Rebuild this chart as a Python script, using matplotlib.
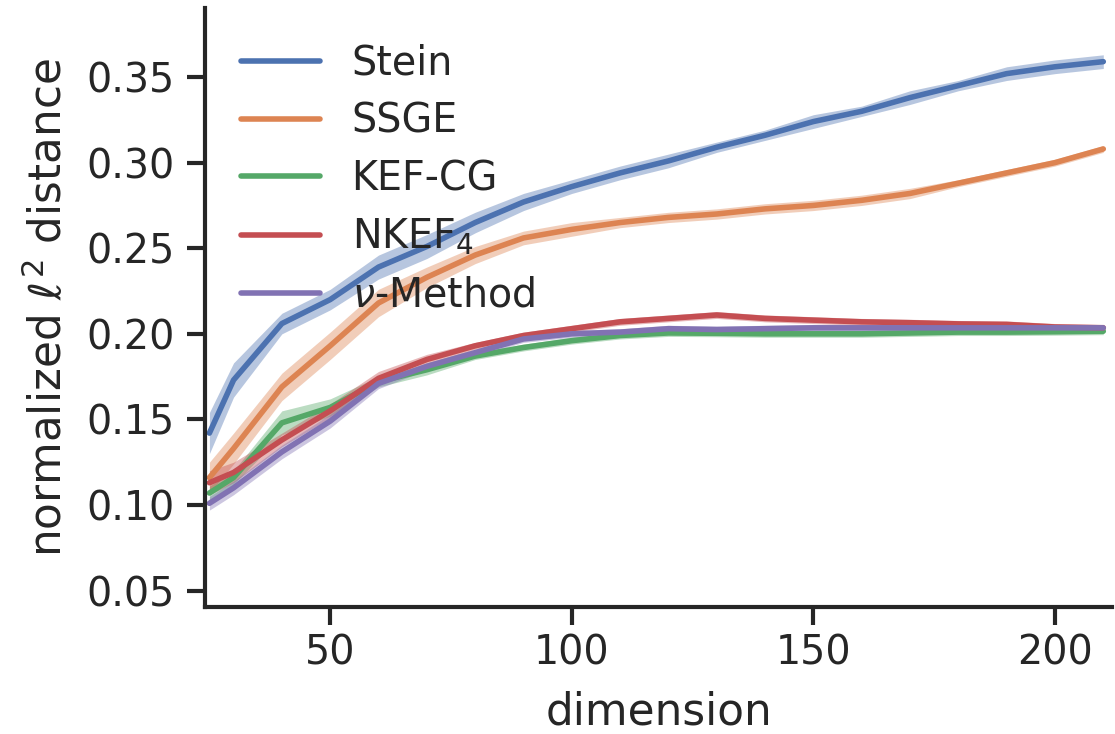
import numpy as np
import matplotlib
matplotlib.use("Agg")
import matplotlib.pyplot as plt
import seaborn as sns

# dimensions on the x axis
dims = [25, 30, 40, 50, 60, 70, 80, 90, 100, 110, 120, 130, 140, 150,
        160, 170, 180, 190, 200, 210]

# mean normalized l2 distance
stein = [0.142, 0.173, 0.206, 0.220, 0.239, 0.251, 0.265, 0.277, 0.286, 0.294,
         0.301, 0.309, 0.316, 0.324, 0.330, 0.338, 0.345, 0.352, 0.356, 0.359]
ssge = [0.116, 0.133, 0.169, 0.193, 0.218, 0.233, 0.246, 0.256, 0.261, 0.265,
        0.268, 0.270, 0.273, 0.275, 0.278, 0.282, 0.288, 0.294, 0.300, 0.308]
kef_cg = [0.107, 0.116, 0.148, 0.157, 0.172, 0.179, 0.187, 0.192, 0.196, 0.199,
          0.2005, 0.2003, 0.200, 0.200, 0.200, 0.2005, 0.201, 0.201, 0.2012, 0.2015]
nkef4 = [0.113, 0.119, 0.138, 0.155, 0.174, 0.185, 0.193, 0.199, 0.203, 0.207,
         0.209, 0.211, 0.209, 0.208, 0.207, 0.2065, 0.2058, 0.2055, 0.204, 0.2035]
nu_method = [0.101, 0.110, 0.131, 0.149, 0.171, 0.181, 0.189, 0.197, 0.200, 0.201,
             0.203, 0.2025, 0.203, 0.2035, 0.2035, 0.2035, 0.2035, 0.2035, 0.2035, 0.2035]

# half widths of the shaded bands
stein_err = [0.012, 0.010, 0.006, 0.006, 0.007, 0.007, 0.006, 0.005, 0.004, 0.004,
             0.004, 0.003, 0.003, 0.004, 0.003, 0.004, 0.003, 0.004, 0.004, 0.004]
ssge_err = [0.009, 0.009, 0.008, 0.008, 0.008, 0.006, 0.005, 0.004, 0.004, 0.003,
            0.003, 0.003, 0.003, 0.003, 0.003, 0.003, 0.002, 0.002, 0.002, 0.002]
kef_cg_err = [0.004, 0.004, 0.007, 0.005, 0.003, 0.003, 0.002, 0.002, 0.002, 0.002,
              0.002, 0.002, 0.002, 0.002, 0.002, 0.002, 0.002, 0.002, 0.002, 0.002]
nkef4_err = [0.007, 0.006, 0.004, 0.004, 0.004, 0.003, 0.002, 0.002, 0.002, 0.002,
             0.002, 0.002, 0.002, 0.002, 0.002, 0.002, 0.002, 0.002, 0.002, 0.002]
nu_err = [0.004, 0.004, 0.004, 0.004, 0.003, 0.002, 0.002, 0.002, 0.002, 0.002,
          0.002, 0.002, 0.002, 0.002, 0.002, 0.002, 0.002, 0.002, 0.002, 0.002]

labels = ["Stein", "SSGE", "KEF-CG", r"NKEF$_4$", r"$\nu$-Method"]
series = [stein, ssge, kef_cg, nkef4, nu_method]
errors = [stein_err, ssge_err, kef_cg_err, nkef4_err, nu_err]

sns.set_theme(style="ticks", palette="deep")
plt.rcParams["font.family"] = ["DejaVu Sans"]
colors = sns.color_palette("deep")

fig = plt.figure(figsize=(11.15, 7.34), dpi=100)
ax = fig.add_axes([0.1839, 0.173, 0.8134, 0.816])

x = np.array(dims)
for i, (lab, y, e) in enumerate(zip(labels, series, errors)):
    y = np.array(y)
    e = np.array(e)
    ax.fill_between(x, y - e, y + e, color=colors[i], alpha=0.4, lw=0)
    ax.plot(x, y, color=colors[i], lw=4, label=lab)

ax.set_xlim(24.1, 211.8)
ax.set_ylim(0.0404, 0.3903)
ax.set_xticks([50, 100, 150, 200])
ax.set_yticks([0.05, 0.10, 0.15, 0.20, 0.25, 0.30, 0.35])
ax.set_yticklabels(["0.05", "0.10", "0.15", "0.20", "0.25", "0.30", "0.35"])

for side in ["top", "right"]:
    ax.spines[side].set_visible(False)
for side in ["left", "bottom"]:
    ax.spines[side].set_linewidth(3)
    ax.spines[side].set_color("#262626")

ax.tick_params(axis="both", labelsize=28.5, width=3, length=13, color="#262626",
               labelcolor="#262626")
ax.tick_params(axis="x", pad=6)
ax.tick_params(axis="y", pad=9)

ax.set_xlabel("dimension", fontsize=31.5, color="#262626", labelpad=12)
ax.set_ylabel(r"normalized $\ell^2$ distance", fontsize=31.5, color="#262626",
              labelpad=11)

ax.legend(loc="upper left", frameon=False, fontsize=28.5, labelspacing=0.45)

fig.savefig("out.png", dpi=100)
